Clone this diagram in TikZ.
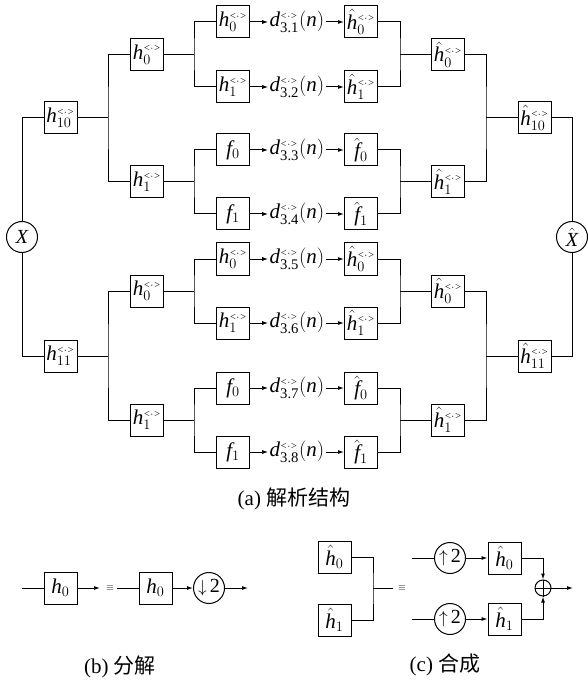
\documentclass[tikz,border=0pt]{standalone}
\usepackage{amsmath}
\usepackage{fontspec}
\setmainfont{Liberation Serif}
\newfontfamily\cjk{Noto Sans CJK SC}
\DeclareSymbolFont{letters}{TU}{\rmdefault}{m}{it}
\usetikzlibrary{arrows.meta}

% superscript mark used on the tree filters
\newcommand{\wsup}{\scriptscriptstyle{<}{\cdot}{>}}

\tikzset{
  filt/.style={draw, minimum width=33pt, minimum height=32pt, inner sep=0pt,
    font=\fontsize{21}{21}\selectfont},
  sig/.style={draw, circle, minimum size=31pt, inner sep=0pt,
    font=\fontsize{20}{20}\selectfont},
  coef/.style={inner sep=1pt, font=\fontsize{21}{21}\selectfont},
  captext/.style={font=\fontsize{21}{21}\selectfont},
}

\begin{document}
\begin{tikzpicture}[x=1pt, y=-1pt, line width=1pt,
    >={Latex[length=6pt, width=4pt]}]
  \useasboundingbox (0,0) rectangle (587,684);

  % input and output signals
  \node[sig] (X) at (22,237) {$X$};
  \node[sig] (Xh) at (572,237) {$\hat{X}$};

  % first level
  \node[filt] (A10) at (60.5,118) {$h_{10}^{\wsup}$};
  \node[filt] (A11) at (60.5,356) {$h_{11}^{\wsup}$};
  \node[filt] (S10) at (534.5,118) {$\hat h_{10}^{\wsup}$};
  \node[filt] (S11) at (534.5,356) {$\hat h_{11}^{\wsup}$};

  % second level
  \foreach \n/\y/\s in {a/54.5/0, b/182/1, c/291/0, d/420/1} {
    \node[filt] (A\n) at (147,\y) {$h_\s^{\wsup}$};
    \node[filt] (S\n) at (448,\y) {$\hat h_\s^{\wsup}$};
  }

  % third level with the coefficients
  \foreach \i/\y/\lab/\hlab in {
      1/22/{h_0^{\wsup}}/{\hat h_0^{\wsup}},
      2/87/{h_1^{\wsup}}/{\hat h_1^{\wsup}},
      3/150/{f_0}/{\hat f_0},
      4/214/{f_1}/{\hat f_1},
      5/259/{h_0^{\wsup}}/{\hat h_0^{\wsup}},
      6/323/{h_1^{\wsup}}/{\hat h_1^{\wsup}},
      7/388/{f_0}/{\hat f_0},
      8/452/{f_1}/{\hat f_1}} {
    \node[filt] (L\i) at (233,\y) {$\lab$};
    \node[coef] (D\i) at (297,\y) {$d^{\wsup}_{\textrm{3.\i}}(n)$};
    \node[filt] (R\i) at (361,\y) {$\hlab$};
    \draw[->] (L\i) -- (D\i);
    \draw[->] (D\i) -- (R\i);
  }

  % branches between second and third level
  \foreach \p/\u/\v/\y in {a/1/2/54.5, b/3/4/182, c/5/6/291, d/7/8/420} {
    \coordinate (J\p) at (194,\y);
    \coordinate (K\p) at (400,\y);
    \draw (A\p) -- (J\p);
    \draw (L\u.west) -| (J\p) |- (L\v.west);
    \draw (S\p) -- (K\p);
    \draw (R\u.east) -| (K\p) |- (R\v.east);
  }

  % branches between first and second level
  \foreach \p/\u/\v/\y in {10/a/b/118, 11/c/d/356} {
    \coordinate (J\p) at (108,\y);
    \coordinate (K\p) at (486,\y);
    \draw (A\p) -- (J\p);
    \draw (A\u.west) -| (J\p) |- (A\v.west);
    \draw (S\p) -- (K\p);
    \draw (S\u.east) -| (K\p) |- (S\v.east);
  }
  \draw (A10.west) -| (X.north);
  \draw (A11.west) -| (X.south);
  \draw (S10.east) -| (Xh.north);
  \draw (S11.east) -| (Xh.south);

  \node[captext] (capA) at (294,499) {(a) {\cjk 解析结构}};

  % (b) decomposition
  \coordinate (bin) at (22,588);
  \node[filt] (B0) at (60.5,588) {$h_0$};
  \coordinate (bmid) at (100,588);
  \node[inner sep=0pt] (beq) at (110,588) {$\equiv$};
  \coordinate (bin2) at (117,588);
  \node[filt] (B1) at (155.5,588) {$h_0$};
  \node[sig] (Bd) at (209,588) {{\fontsize{16}{16}\selectfont$\downarrow$}\,2};
  \coordinate (bout) at (248,588);
  \draw (bin) -- (B0);
  \draw[->] (B0) -- (bmid);
  \draw (bin2) -- (B1);
  \draw[->] (B1) -- (Bd);
  \draw[->] (Bd) -- (bout);
  \node[captext] (capB) at (120,667) {(b) {\cjk 分解}};

  % (c) synthesis
  \node[filt] (C0) at (334.5,557) {$\hat h_0$};
  \node[filt] (C1) at (334.5,620) {$\hat h_1$};
  \coordinate (cj) at (373,588);
  \coordinate (cjo) at (393,588);
  \draw (C0.east) -| (cj) |- (C1.east);
  \draw (cj) -- (cjo);
  \node[inner sep=0pt] (ceq) at (402,588) {$\equiv$};
  \foreach \k/\y in {0/558, 1/619} {
    \coordinate (cin\k) at (412,\y);
    \node[sig] (U\k) at (450,\y) {{\fontsize{16}{16}\selectfont$\uparrow$}\,2};
    \node[filt] (H\k) at (504.5,\y) {$\hat h_\k$};
    \draw (cin\k) -- (U\k);
    \draw[->] (U\k) -- (H\k);
  }
  \node[draw, circle, minimum size=16pt, inner sep=0pt] (P) at (543,588) {};
  \draw (P.north) -- (P.south) (P.west) -- (P.east);
  \draw[->] (H0.east) -| (P.north);
  \draw[->] (H1.east) -| (P.south);
  \coordinate (cout) at (573,588);
  \draw[->] (P) -- (cout);
  \node[captext] (capC) at (445,665) {(c) {\cjk 合成}};

\end{tikzpicture}
\end{document}
